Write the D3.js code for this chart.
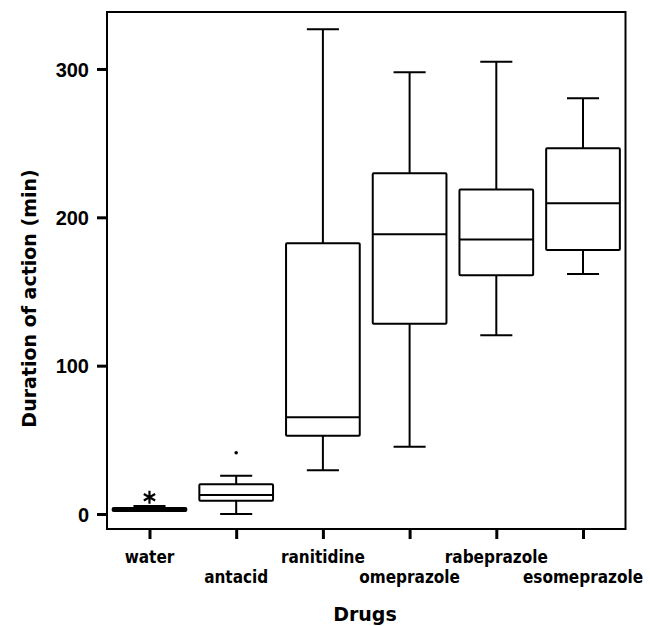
<html>
<head>
<script src="https://d3js.org/d3.v7.min.js"></script>
<style>
  body { margin: 0; background: #fff; }
  svg { display: block; }
</style>
</head>
<body>
<svg width="650" height="626"></svg>
<script>
// categories and box statistics
const drugs = ['water', 'antacid', 'ranitidine', 'omeprazole', 'rabeprazole', 'esomeprazole'];
const whiskerLow  = [2,   0,    29.5,  45.4,  120.5, 161.8];
const q1          = [2,   9,    52.8,  128.3, 161,   178];
const median      = [3,   12.8, 65.2,  188.6, 185,   209.5];
const q3          = [4,   20,   182.5, 229.7, 218.7, 246.6];
const whiskerHigh = [5.4, 25.8, 326.8, 297.8, 304.8, 280.3];
const extremes = [{ drug: 'water', value: 11.3 }];
const outliers = [{ drug: 'antacid', value: 41.3 }];
const yTicks = [0, 100, 200, 300];

const svg = d3.select('svg');
const plotL = 107, plotR = 625.5, plotT = 12, plotB = 529;

const x = d3.scalePoint().domain(drugs).range([plotL, plotR]).padding(0.49);
const y = d3.scaleLinear().domain([-10.1, 338.4]).range([plotB, plotT]);
const step = x.step();
const boxW = step * 0.85;
const capW = step * 0.37;

const boxes = drugs.map((d, i) => ({
  drug: d, lo: whiskerLow[i], q1: q1[i], med: median[i], q3: q3[i], hi: whiskerHigh[i]
}));

// frame
svg.append('rect')
  .attr('x', plotL).attr('y', plotT)
  .attr('width', plotR - plotL).attr('height', plotB - plotT)
  .attr('fill', 'none').attr('stroke', '#000').attr('stroke-width', 2);

// y axis
const yAxis = svg.append('g')
  .attr('transform', `translate(${plotL - 1}, 0)`)
  .call(d3.axisLeft(y).tickValues(yTicks).tickSize(9).tickPadding(8));
yAxis.select('.domain').remove();
yAxis.selectAll('.tick line').attr('stroke', '#000').attr('stroke-width', 3);
yAxis.selectAll('.tick text')
  .attr('font-family', '"Liberation Sans", Arial, sans-serif')
  .attr('font-weight', 'bold')
  .attr('font-size', 20)
  .attr('fill', '#000')
  .attr('dy', '0.36em');

// x axis
const xAxis = svg.append('g')
  .attr('transform', `translate(0, ${plotB + 1})`)
  .call(d3.axisBottom(x).tickSize(9).tickFormat(''));
xAxis.select('.domain').remove();
xAxis.selectAll('.tick line').attr('stroke', '#000').attr('stroke-width', 3);

svg.append('g').selectAll('text')
  .data(drugs)
  .join('text')
  .attr('font-family', '"DejaVu Sans Condensed", "DejaVu Sans", sans-serif')
  .attr('font-weight', 'bold')
  .attr('font-size', 17)
  .attr('x', d => x(d))
  .attr('y', (d, i) => i % 2 === 0 ? 562.7 : 583.3)
  .attr('text-anchor', 'middle')
  .text(d => d);

// boxes
const g = svg.append('g')
  .attr('stroke', '#000').attr('stroke-width', 2).attr('fill', 'none');

const bg = g.selectAll('g').data(boxes).join('g');

bg.append('line')
  .attr('x1', d => x(d.drug)).attr('x2', d => x(d.drug))
  .attr('y1', d => y(d.hi)).attr('y2', d => y(d.q3));
bg.append('line')
  .attr('x1', d => x(d.drug)).attr('x2', d => x(d.drug))
  .attr('y1', d => y(d.q1)).attr('y2', d => y(d.lo));
bg.append('line')
  .attr('x1', d => x(d.drug) - capW / 2).attr('x2', d => x(d.drug) + capW / 2)
  .attr('y1', d => y(d.hi)).attr('y2', d => y(d.hi));
bg.append('line')
  .attr('x1', d => x(d.drug) - capW / 2).attr('x2', d => x(d.drug) + capW / 2)
  .attr('y1', d => y(d.lo)).attr('y2', d => y(d.lo));
bg.append('rect')
  .attr('x', d => x(d.drug) - boxW / 2)
  .attr('y', d => y(d.q3))
  .attr('width', boxW)
  .attr('height', d => y(d.q1) - y(d.q3))
  .attr('rx', 1)
  .attr('fill', d => d.drug === 'water' ? '#000' : '#fff');
bg.append('line')
  .attr('x1', d => x(d.drug) - boxW / 2).attr('x2', d => x(d.drug) + boxW / 2)
  .attr('y1', d => y(d.med)).attr('y2', d => y(d.med));

// extreme values (asterisk) and outliers (dot)
svg.append('g').selectAll('path')
  .data(extremes)
  .join('path')
  .attr('transform', d => `translate(${x(d.drug)}, ${y(d.value)})`)
  .attr('d', d3.symbol(d3.symbolAsterisk, 120))
  .attr('stroke', '#000').attr('stroke-width', 2.2).attr('fill', 'none');

svg.append('g').selectAll('circle')
  .data(outliers)
  .join('circle')
  .attr('cx', d => x(d.drug))
  .attr('cy', d => y(d.value))
  .attr('r', 1.8)
  .attr('fill', '#000');

// axis titles
svg.append('text')
  .attr('font-family', '"DejaVu Sans", sans-serif')
  .attr('font-weight', 'bold')
  .attr('font-size', 19)
  .attr('x', 365)
  .attr('y', 621)
  .attr('text-anchor', 'middle')
  .text('Drugs');

svg.append('text')
  .attr('font-family', '"DejaVu Sans", sans-serif')
  .attr('font-weight', 'bold')
  .attr('font-size', 19)
  .attr('transform', 'translate(36, 298.5) rotate(-90)')
  .attr('text-anchor', 'middle')
  .text('Duration of action (min)');
</script>
</body>
</html>
